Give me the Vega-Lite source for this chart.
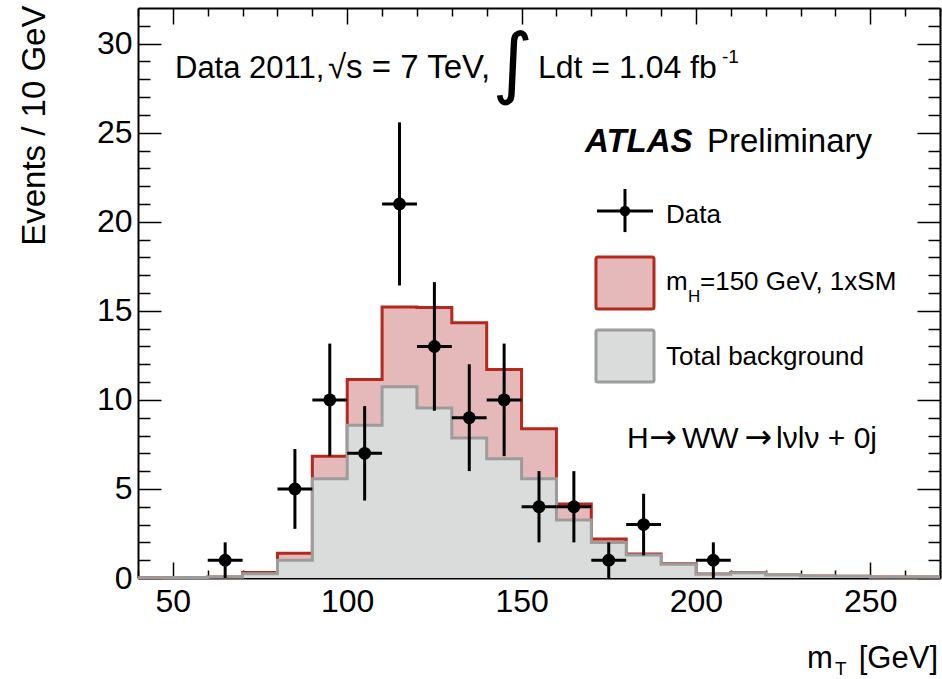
{
  "$schema": "https://vega.github.io/schema/vega-lite/v6.json",
  "width": 802,
  "height": 570,
  "autosize": {"type": "none"},
  "padding": {"left": 138, "top": 8, "right": 2, "bottom": 101},
  "background": "white",
  "config": {
    "font": "Liberation Sans",
    "view": {"stroke": null},
    "axis": {"grid": false, "domain": false, "tickColor": "black", "tickWidth": 1.5, "labelFont": "Liberation Sans", "labelFontSize": 32, "labelColor": "black", "zindex": 1}
  },
  "resolve": {"scale": {"x": "shared", "y": "shared"}, "axis": {"x": "independent", "y": "independent"}},
  "datasets": {
    "hist": [
      {"mT": 40, "total": 0.02, "bkg": 0.02},
      {"mT": 50, "total": 0.03, "bkg": 0.03},
      {"mT": 60, "total": 0.06, "bkg": 0.05},
      {"mT": 70, "total": 0.31, "bkg": 0.24},
      {"mT": 80, "total": 1.39, "bkg": 0.99},
      {"mT": 90, "total": 6.83, "bkg": 5.57},
      {"mT": 100, "total": 11.14, "bkg": 8.57},
      {"mT": 110, "total": 15.21, "bkg": 10.73},
      {"mT": 120, "total": 15.18, "bkg": 9.55},
      {"mT": 130, "total": 14.33, "bkg": 7.86},
      {"mT": 140, "total": 11.7, "bkg": 6.7},
      {"mT": 150, "total": 8.38, "bkg": 5.57},
      {"mT": 160, "total": 4.16, "bkg": 3.26},
      {"mT": 170, "total": 2.19, "bkg": 2.0},
      {"mT": 180, "total": 1.35, "bkg": 1.29},
      {"mT": 190, "total": 0.8, "bkg": 0.77},
      {"mT": 200, "total": 0.22, "bkg": 0.21},
      {"mT": 210, "total": 0.31, "bkg": 0.3},
      {"mT": 220, "total": 0.17, "bkg": 0.17},
      {"mT": 230, "total": 0.11, "bkg": 0.11},
      {"mT": 240, "total": 0.1, "bkg": 0.1},
      {"mT": 250, "total": 0.06, "bkg": 0.06},
      {"mT": 260, "total": 0.05, "bkg": 0.05},
      {"mT": 270, "total": 0.05, "bkg": 0.05}
    ],
    "pts": [
      {"mT": 65, "xlo": 60, "xhi": 70, "n": 1, "lo": 0, "hi": 2},
      {"mT": 85, "xlo": 80, "xhi": 90, "n": 5, "lo": 2.76, "hi": 7.24},
      {"mT": 95, "xlo": 90, "xhi": 100, "n": 10, "lo": 6.84, "hi": 13.16},
      {"mT": 105, "xlo": 100, "xhi": 110, "n": 7, "lo": 4.35, "hi": 9.65},
      {"mT": 115, "xlo": 110, "xhi": 120, "n": 21, "lo": 16.42, "hi": 25.58},
      {"mT": 125, "xlo": 120, "xhi": 130, "n": 13, "lo": 9.39, "hi": 16.61},
      {"mT": 135, "xlo": 130, "xhi": 140, "n": 9, "lo": 6, "hi": 12},
      {"mT": 145, "xlo": 140, "xhi": 150, "n": 10, "lo": 6.84, "hi": 13.16},
      {"mT": 155, "xlo": 150, "xhi": 160, "n": 4, "lo": 2, "hi": 6},
      {"mT": 165, "xlo": 160, "xhi": 170, "n": 4, "lo": 2, "hi": 6},
      {"mT": 175, "xlo": 170, "xhi": 180, "n": 1, "lo": 0, "hi": 2},
      {"mT": 185, "xlo": 180, "xhi": 190, "n": 3, "lo": 1.27, "hi": 4.73},
      {"mT": 205, "xlo": 200, "xhi": 210, "n": 1, "lo": 0, "hi": 2}
    ]
  },
  "layer": [
    {
      "data": {"name": "hist"},
      "mark": {"type": "area", "interpolate": "step-after", "color": "#e5b9b9"},
      "encoding": {
        "x": {"field": "mT", "type": "quantitative", "scale": {"domain": [40, 270], "nice": false, "zero": false},
              "axis": {"orient": "bottom", "values": [50, 100, 150, 200, 250], "tickSize": -16, "labelPadding": 24, "title": null, "domain": true, "domainWidth": 2, "domainColor": "black"}},
        "y": {"field": "total", "type": "quantitative", "scale": {"domain": [0, 32], "nice": false},
              "axis": {"orient": "left", "values": [0, 5, 10, 15, 20, 25, 30], "tickSize": -23, "labelPadding": 29, "domain": true, "domainWidth": 2, "domainColor": "black",
                       "title": "Events / 10 GeV", "titleFont": "Liberation Sans", "titleFontSize": 33, "titleFontWeight": "normal", "titleColor": "black", "titleAngle": -90, "titleAlign": "right", "titleBaseline": "alphabetic", "titleX": -94, "titleY": -3}}
      }
    },
    {
      "data": {"name": "hist"},
      "mark": {"type": "line", "interpolate": "step-after", "color": "#b5281c", "strokeWidth": 3},
      "encoding": {
        "x": {"field": "mT", "type": "quantitative", "scale": {"domain": [40, 270], "nice": false, "zero": false},
              "axis": {"orient": "bottom", "values": [40, 60, 70, 80, 90, 110, 120, 130, 140, 160, 170, 180, 190, 210, 220, 230, 240, 260, 270], "tickSize": -8, "labels": false, "title": null}},
        "y": {"field": "total", "type": "quantitative", "scale": {"domain": [0, 32], "nice": false},
              "axis": {"orient": "left", "values": [1, 2, 3, 4, 6, 7, 8, 9, 11, 12, 13, 14, 16, 17, 18, 19, 21, 22, 23, 24, 26, 27, 28, 29, 31], "tickSize": -12, "labels": false, "title": null}}
      }
    },
    {
      "data": {"name": "hist"},
      "mark": {"type": "area", "interpolate": "step-after", "color": "#dadcdb"},
      "encoding": {
        "x": {"field": "mT", "type": "quantitative", "scale": {"domain": [40, 270], "nice": false, "zero": false},
              "axis": {"orient": "top", "values": [50, 100, 150, 200, 250], "tickSize": -16, "labels": false, "title": null, "domain": true, "domainWidth": 2, "domainColor": "black"}},
        "y": {"field": "bkg", "type": "quantitative", "scale": {"domain": [0, 32], "nice": false},
              "axis": {"orient": "right", "values": [0, 5, 10, 15, 20, 25, 30], "tickSize": -23, "labels": false, "title": null, "domain": true, "domainWidth": 2, "domainColor": "black"}}
      }
    },
    {
      "data": {"name": "hist"},
      "mark": {"type": "line", "interpolate": "step-after", "color": "#9c9c9c", "strokeWidth": 3},
      "encoding": {
        "x": {"field": "mT", "type": "quantitative", "scale": {"domain": [40, 270], "nice": false, "zero": false},
              "axis": {"orient": "top", "values": [40, 60, 70, 80, 90, 110, 120, 130, 140, 160, 170, 180, 190, 210, 220, 230, 240, 260, 270], "tickSize": -8, "labels": false, "title": null}},
        "y": {"field": "bkg", "type": "quantitative", "scale": {"domain": [0, 32], "nice": false},
              "axis": {"orient": "right", "values": [1, 2, 3, 4, 6, 7, 8, 9, 11, 12, 13, 14, 16, 17, 18, 19, 21, 22, 23, 24, 26, 27, 28, 29, 31], "tickSize": -12, "labels": false, "title": null}}
      }
    },
    {
      "data": {"name": "pts"},
      "mark": {"type": "rule", "color": "black", "strokeWidth": 3},
      "encoding": {
        "x": {"field": "mT", "type": "quantitative", "scale": {"domain": [40, 270], "nice": false, "zero": false}, "axis": null},
        "y": {"field": "lo", "type": "quantitative", "scale": {"domain": [0, 32], "nice": false}, "axis": null},
        "y2": {"field": "hi"}
      }
    },
    {
      "data": {"name": "pts"},
      "mark": {"type": "rule", "color": "black", "strokeWidth": 3},
      "encoding": {
        "x": {"field": "xlo", "type": "quantitative", "scale": {"domain": [40, 270], "nice": false, "zero": false}, "axis": null},
        "x2": {"field": "xhi"},
        "y": {"field": "n", "type": "quantitative", "scale": {"domain": [0, 32], "nice": false}, "axis": null}
      }
    },
    {
      "data": {"name": "pts"},
      "mark": {"type": "point", "filled": true, "color": "black", "opacity": 1, "size": 165},
      "encoding": {
        "x": {"field": "mT", "type": "quantitative", "scale": {"domain": [40, 270], "nice": false, "zero": false}, "axis": null},
        "y": {"field": "n", "type": "quantitative", "scale": {"domain": [0, 32], "nice": false}, "axis": null}
      }
    },
    {
      "data": {"values": [{"x1": 171.63, "x2": 187.69, "y": 20.6}]},
      "mark": {"type": "rule", "color": "black", "strokeWidth": 3},
      "encoding": {
        "x": {"field": "x1", "type": "quantitative", "scale": {"domain": [40, 270], "nice": false, "zero": false}, "axis": null},
        "x2": {"field": "x2"},
        "y": {"field": "y", "type": "quantitative", "scale": {"domain": [0, 32], "nice": false}, "axis": null}
      }
    },
    {
      "data": {"values": [{"x": 179.66, "y1": 19.42, "y2": 21.84}]},
      "mark": {"type": "rule", "color": "black", "strokeWidth": 3},
      "encoding": {
        "x": {"field": "x", "type": "quantitative", "scale": {"domain": [40, 270], "nice": false, "zero": false}, "axis": null},
        "y": {"field": "y1", "type": "quantitative", "scale": {"domain": [0, 32], "nice": false}, "axis": null},
        "y2": {"field": "y2"}
      }
    },
    {
      "data": {"values": [{"x": 179.66, "y": 20.6}]},
      "mark": {"type": "point", "filled": true, "color": "black", "opacity": 1, "size": 110},
      "encoding": {
        "x": {"field": "x", "type": "quantitative", "scale": {"domain": [40, 270], "nice": false, "zero": false}, "axis": null},
        "y": {"field": "y", "type": "quantitative", "scale": {"domain": [0, 32], "nice": false}, "axis": null}
      }
    },
    {
      "data": {"values": [{"x1": 171.34, "x2": 187.98, "y1": 15.1, "y2": 18.02}]},
      "mark": {"type": "rect", "fill": "#e5b9b9", "stroke": "#b5281c", "strokeWidth": 3, "cornerRadius": 2},
      "encoding": {
        "x": {"field": "x1", "type": "quantitative", "scale": {"domain": [40, 270], "nice": false, "zero": false}, "axis": null},
        "x2": {"field": "x2"},
        "y": {"field": "y1", "type": "quantitative", "scale": {"domain": [0, 32], "nice": false}, "axis": null},
        "y2": {"field": "y2"}
      }
    },
    {
      "data": {"values": [{"x1": 171.34, "x2": 187.98, "y1": 11.0, "y2": 13.92}]},
      "mark": {"type": "rect", "fill": "#dadcdb", "stroke": "#9c9c9c", "strokeWidth": 3, "cornerRadius": 2},
      "encoding": {
        "x": {"field": "x1", "type": "quantitative", "scale": {"domain": [40, 270], "nice": false, "zero": false}, "axis": null},
        "x2": {"field": "x2"},
        "y": {"field": "y1", "type": "quantitative", "scale": {"domain": [0, 32], "nice": false}, "axis": null},
        "y2": {"field": "y2"}
      }
    },
    {
      "data": {"values": [{"x": 50.61, "y": 28.07, "label": "Data 2011,"}]},
      "mark": {"type": "text", "align": "left", "baseline": "alphabetic", "fontSize": 31, "font": "Liberation Sans", "color": "black"},
      "encoding": {
        "x": {"field": "x", "type": "quantitative", "scale": {"domain": [40, 270], "nice": false, "zero": false}, "axis": null},
        "y": {"field": "y", "type": "quantitative", "scale": {"domain": [0, 32], "nice": false}, "axis": null},
        "text": {"field": "label"}
      }
    },
    {
      "data": {"values": [
        {"x": 94.49, "y": 28.07, "label": "√s = 7 TeV,"}
      ]},
      "mark": {"type": "text", "align": "left", "baseline": "alphabetic", "fontSize": 33, "font": "Liberation Sans", "color": "black"},
      "encoding": {
        "x": {"field": "x", "type": "quantitative", "scale": {"domain": [40, 270], "nice": false, "zero": false}, "axis": null},
        "y": {"field": "y", "type": "quantitative", "scale": {"domain": [0, 32], "nice": false}, "axis": null},
        "text": {"field": "label"}
      }
    },
    {
      "data": {"values": [
        {"x": 154.71, "y": 28.07, "label": "Ldt = 1.04 fb"}
      ]},
      "mark": {"type": "text", "align": "left", "baseline": "alphabetic", "fontSize": 32, "font": "Liberation Sans", "color": "black"},
      "encoding": {
        "x": {"field": "x", "type": "quantitative", "scale": {"domain": [40, 270], "nice": false, "zero": false}, "axis": null},
        "y": {"field": "y", "type": "quantitative", "scale": {"domain": [0, 32], "nice": false}, "axis": null},
        "text": {"field": "label"}
      }
    },
    {
      "data": {"values": [{"x": 147.5, "y": 28.75, "label": "∫"}]},
      "mark": {"type": "text", "align": "center", "baseline": "middle", "fontSize": 78, "font": "DejaVu Sans", "color": "black"},
      "encoding": {
        "x": {"field": "x", "type": "quantitative", "scale": {"domain": [40, 270], "nice": false, "zero": false}, "axis": null},
        "y": {"field": "y", "type": "quantitative", "scale": {"domain": [0, 32], "nice": false}, "axis": null},
        "text": {"field": "label"}
      }
    },
    {
      "data": {"values": [{"x": 207.47, "y": 28.91, "label": "-1"}, {"x": 239.88, "y": -5.45, "label": "T"}]},
      "mark": {"type": "text", "align": "left", "baseline": "alphabetic", "fontSize": 19, "font": "Liberation Sans", "color": "black"},
      "encoding": {
        "x": {"field": "x", "type": "quantitative", "scale": {"domain": [40, 270], "nice": false, "zero": false}, "axis": null},
        "y": {"field": "y", "type": "quantitative", "scale": {"domain": [0, 32], "nice": false}, "axis": null},
        "text": {"field": "label"}
      }
    },
    {
      "data": {"values": [{"x": 168.19, "y": 23.92, "label": "ATLAS"}]},
      "mark": {"type": "text", "align": "left", "baseline": "alphabetic", "fontSize": 33, "font": "Liberation Sans", "fontWeight": "bold", "fontStyle": "italic", "color": "black"},
      "encoding": {
        "x": {"field": "x", "type": "quantitative", "scale": {"domain": [40, 270], "nice": false, "zero": false}, "axis": null},
        "y": {"field": "y", "type": "quantitative", "scale": {"domain": [0, 32], "nice": false}, "axis": null},
        "text": {"field": "label"}
      }
    },
    {
      "data": {"values": [{"x": 203.18, "y": 23.92, "label": "Preliminary"}]},
      "mark": {"type": "text", "align": "left", "baseline": "alphabetic", "fontSize": 33, "font": "Liberation Sans", "color": "black"},
      "encoding": {
        "x": {"field": "x", "type": "quantitative", "scale": {"domain": [40, 270], "nice": false, "zero": false}, "axis": null},
        "y": {"field": "y", "type": "quantitative", "scale": {"domain": [0, 32], "nice": false}, "axis": null},
        "text": {"field": "label"}
      }
    },
    {
      "data": {"values": [
        {"x": 191.42, "y": 19.95, "label": "Data"},
        {"x": 191.42, "y": 16.17, "label": "m"},
        {"x": 201.17, "y": 16.17, "label": "=150 GeV, 1xSM"},
        {"x": 191.42, "y": 11.96, "label": "Total background"}
      ]},
      "mark": {"type": "text", "align": "left", "baseline": "alphabetic", "fontSize": 26, "font": "Liberation Sans", "color": "black"},
      "encoding": {
        "x": {"field": "x", "type": "quantitative", "scale": {"domain": [40, 270], "nice": false, "zero": false}, "axis": null},
        "y": {"field": "y", "type": "quantitative", "scale": {"domain": [0, 32], "nice": false}, "axis": null},
        "text": {"field": "label"}
      }
    },
    {
      "data": {"values": [{"x": 197.73, "y": 15.49, "label": "H"}]},
      "mark": {"type": "text", "align": "left", "baseline": "alphabetic", "fontSize": 17, "font": "Liberation Sans", "color": "black"},
      "encoding": {
        "x": {"field": "x", "type": "quantitative", "scale": {"domain": [40, 270], "nice": false, "zero": false}, "axis": null},
        "y": {"field": "y", "type": "quantitative", "scale": {"domain": [0, 32], "nice": false}, "axis": null},
        "text": {"field": "label"}
      }
    },
    {
      "data": {"values": [
        {"x": 180.24, "y": 7.3, "label": "H"},
        {"x": 196.01, "y": 7.3, "label": "WW"},
        {"x": 223.0, "y": 7.3, "label": "lνlν + 0j"}
      ]},
      "mark": {"type": "text", "align": "left", "baseline": "alphabetic", "fontSize": 30, "font": "Liberation Sans", "color": "black"},
      "encoding": {
        "x": {"field": "x", "type": "quantitative", "scale": {"domain": [40, 270], "nice": false, "zero": false}, "axis": null},
        "y": {"field": "y", "type": "quantitative", "scale": {"domain": [0, 32], "nice": false}, "axis": null},
        "text": {"field": "label"}
      }
    },
    {
      "data": {"values": [
        {"x": 186.6, "y": 7.3, "label": "→"},
        {"x": 213.9, "y": 7.3, "label": "→"}
      ]},
      "mark": {"type": "text", "align": "left", "baseline": "alphabetic", "fontSize": 33, "font": "DejaVu Sans", "color": "black"},
      "encoding": {
        "x": {"field": "x", "type": "quantitative", "scale": {"domain": [40, 270], "nice": false, "zero": false}, "axis": null},
        "y": {"field": "y", "type": "quantitative", "scale": {"domain": [0, 32], "nice": false}, "axis": null},
        "text": {"field": "label"}
      }
    },
    {
      "data": {"values": [{"x": 231.85, "y": -5.05, "label": "m"}]},
      "mark": {"type": "text", "align": "left", "baseline": "alphabetic", "fontSize": 31, "font": "Liberation Sans", "color": "black"},
      "encoding": {
        "x": {"field": "x", "type": "quantitative", "scale": {"domain": [40, 270], "nice": false, "zero": false}, "axis": null},
        "y": {"field": "y", "type": "quantitative", "scale": {"domain": [0, 32], "nice": false}, "axis": null},
        "text": {"field": "label"}
      }
    },
    {
      "data": {"values": [{"x": 269.43, "y": -5.05, "label": "[GeV]"}]},
      "mark": {"type": "text", "align": "right", "baseline": "alphabetic", "fontSize": 31, "font": "Liberation Sans", "color": "black"},
      "encoding": {
        "x": {"field": "x", "type": "quantitative", "scale": {"domain": [40, 270], "nice": false, "zero": false}, "axis": null},
        "y": {"field": "y", "type": "quantitative", "scale": {"domain": [0, 32], "nice": false}, "axis": null},
        "text": {"field": "label"}
      }
    }
  ]
}
